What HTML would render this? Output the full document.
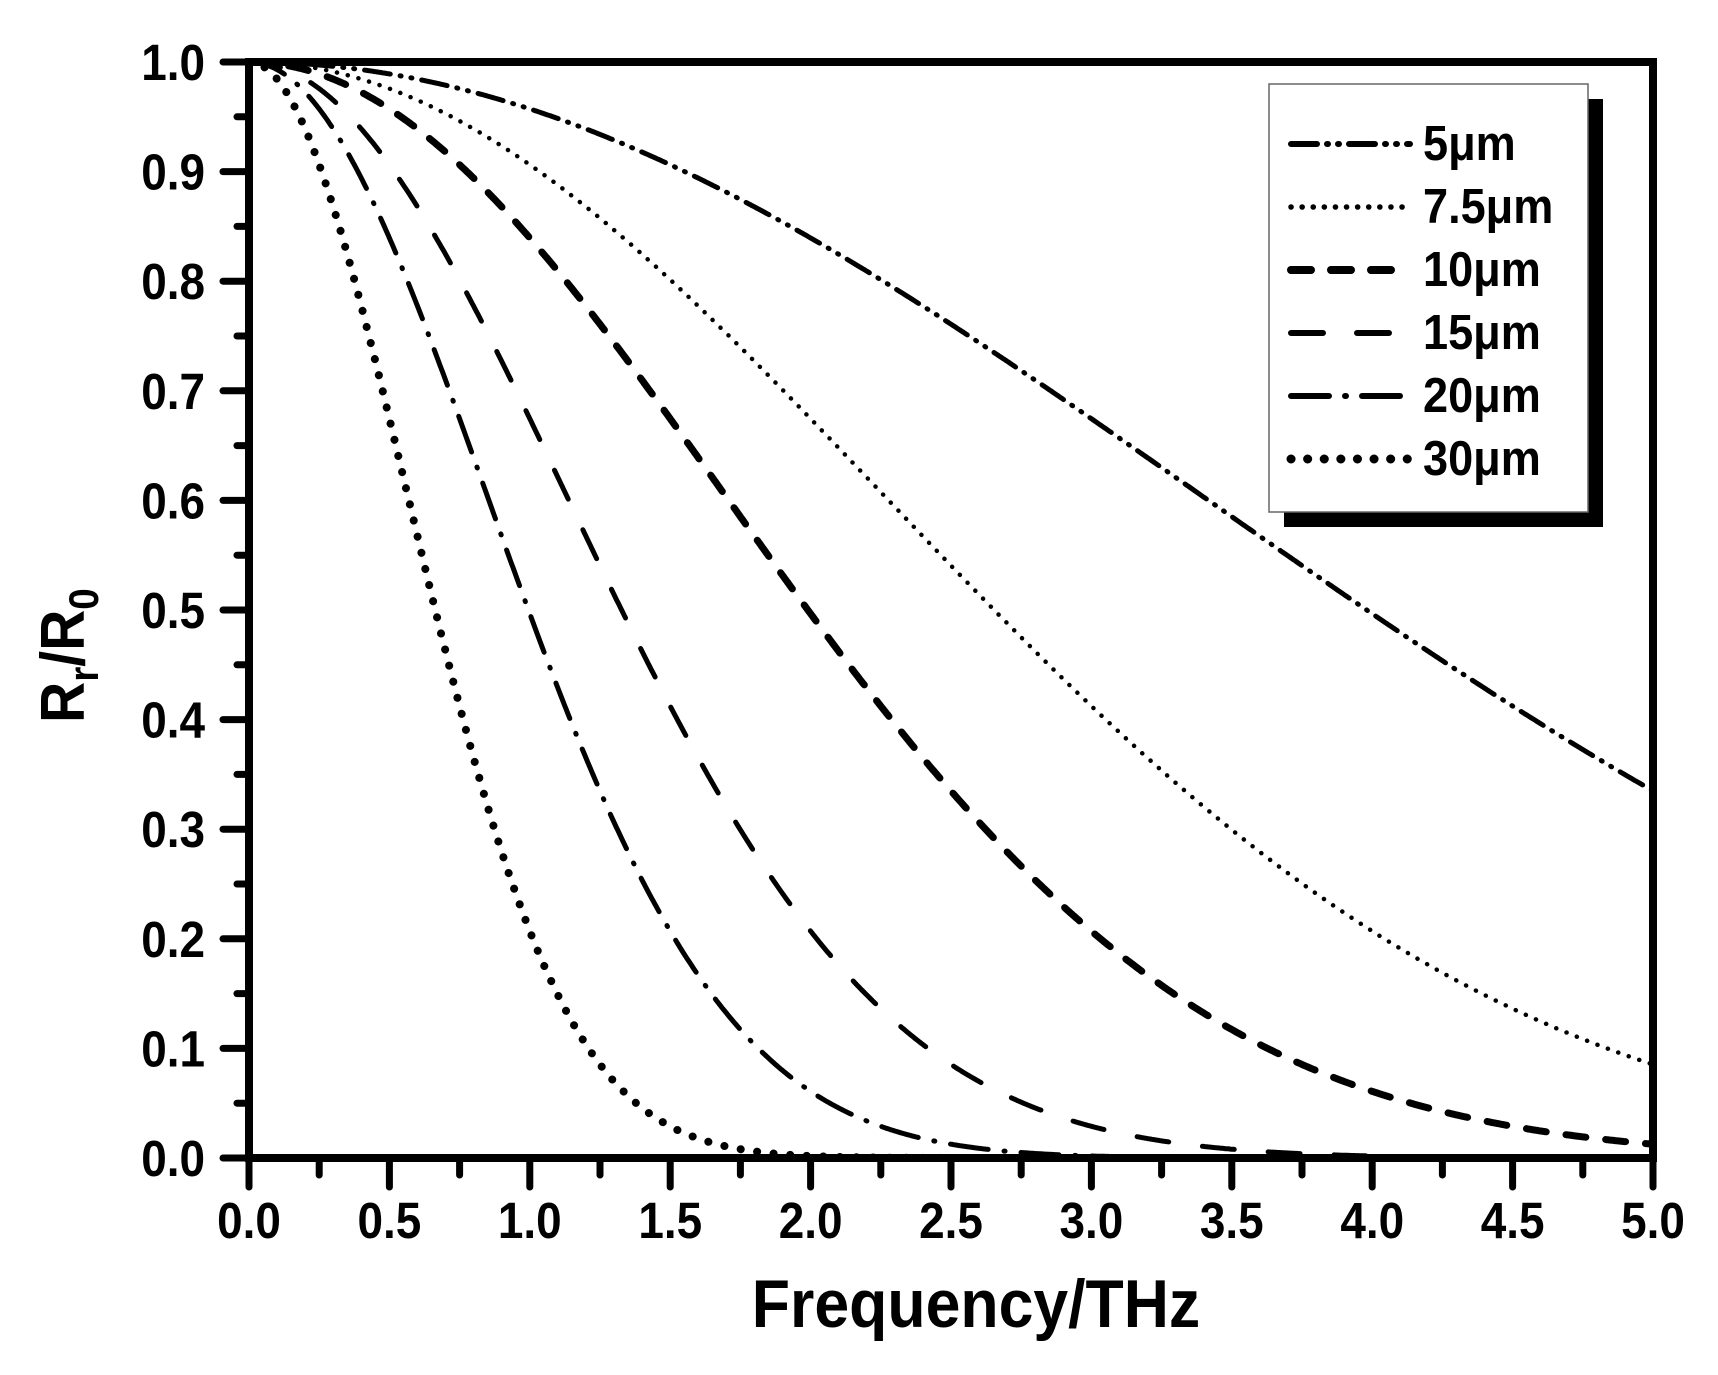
<!DOCTYPE html>
<html><head><meta charset="utf-8"><style>
html,body{margin:0;padding:0;background:#fff;}
svg{display:block;font-family:"Liberation Sans",Arial,sans-serif;font-weight:bold;}
</style></head><body>
<svg id="s" width="1718" height="1375" viewBox="0 0 1718 1375" xmlns="http://www.w3.org/2000/svg">
<g id="curves" fill="none" stroke="#000"></g>
<g id="axes" stroke="#000" stroke-linecap="round"></g>
<g id="labels" font-size="51" fill="#000"></g>
<text transform="translate(976,1327) scale(0.92,1)" font-size="68" text-anchor="middle">Frequency/THz</text>
<text transform="translate(84,723) rotate(-90) scale(0.92,1)" font-size="62">R<tspan font-size="42" dy="14">r</tspan><tspan dy="-14">/R</tspan><tspan font-size="42" dy="14">0</tspan></text>
<rect x="1284" y="99" width="319" height="428" fill="#000"/>
<rect x="1269" y="84" width="319" height="428" fill="#fff" stroke="#666" stroke-width="1.5"/>
<g id="legend" fill="none" stroke="#000"></g>
<g font-size="49" fill="#000">
<text transform="translate(1423,160) scale(0.92,1)">5μm</text>
<text transform="translate(1423,223) scale(0.92,1)">7.5μm</text>
<text transform="translate(1423,286) scale(0.92,1)">10μm</text>
<text transform="translate(1423,349) scale(0.92,1)">15μm</text>
<text transform="translate(1423,412) scale(0.92,1)">20μm</text>
<text transform="translate(1423,475) scale(0.92,1)">30μm</text>
</g>
</svg>
<script>
var L=249,R=1653,T=62,B=1158,NS="http://www.w3.org/2000/svg";
function X(f){return L+(R-L)*f/5;}function Y(v){return B-(B-T)*v;}
function el(p,t,a){var e=document.createElementNS(NS,t);for(var k in a)e.setAttribute(k,a[k]);p.appendChild(e);return e;}
var series=[
 [5,"26 10 1 10 1 10",5,"round"],
 [7.5,"0.1 11",4.5,"round"],
 [10,"20 20",7,"round"],
 [15,"32 34",5,"round"],
 [20,"38 16 1 16",5,"round"],
 [30,"0.1 16.5",8,"round"]];
var cg=document.getElementById("curves"),lg=document.getElementById("legend");
series.forEach(function(s,i){
 var d="";for(var j=0;j<=1000;j++){var f=5*j/1000;var v=Math.exp(-0.00175*(f*s[0])*(f*s[0]));d+=(j?"L":"M")+X(f).toFixed(1)+" "+Y(v).toFixed(1);}
 el(cg,"path",{d:d,"stroke-width":s[2],"stroke-dasharray":s[1],"stroke-linecap":s[3],"stroke-linejoin":"round"});
 var y=144+63*i;
 el(lg,"path",{d:"M1291 "+y+"L1410 "+y,"stroke-width":s[2]+1,"stroke-dasharray":s[1],"stroke-linecap":s[3]});
});
var ag=document.getElementById("axes"),lb=document.getElementById("labels");
el(ag,"rect",{x:L,y:T,width:R-L,height:B-T,fill:"none","stroke-width":8,"stroke-linecap":"butt"});
for(var i=0;i<=20;i++){var y=Y(i/20);var maj=i%2==0;
 el(ag,"line",{x1:L,y1:y,x2:L-(maj?26:12),y2:y,"stroke-width":7});
 if(maj){var t=el(lb,"text",{transform:"translate(205,"+(y+18)+") scale(0.9,1)","text-anchor":"end"});t.textContent=(i/20).toFixed(1);}}
for(var i=0;i<=20;i++){var x=X(i/4);var maj=i%2==0;
 el(ag,"line",{x1:x,y1:B,x2:x,y2:B+(maj?29:17),"stroke-width":7});
 if(maj){var t=el(lb,"text",{transform:"translate("+x+",1238) scale(0.9,1)","text-anchor":"middle"});t.textContent=(i/4).toFixed(1);}}
</script>
</body></html>
